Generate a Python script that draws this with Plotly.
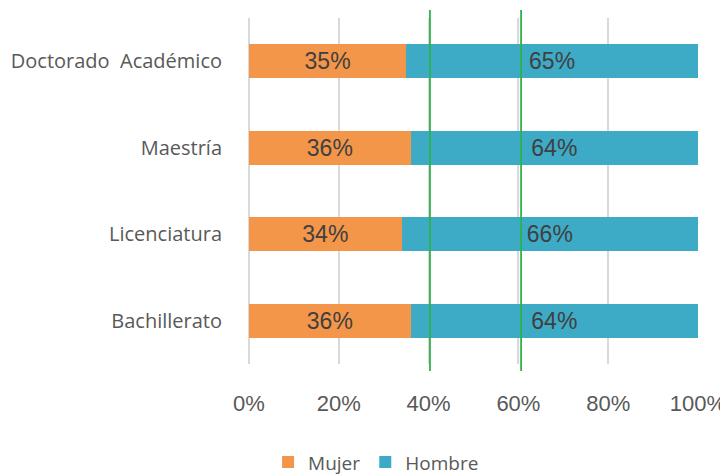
import plotly.graph_objects as go

categories = ["Doctorado  Académico", "Maestría", "Licenciatura", "Bachillerato"]
mujer = [35, 36, 34, 36]
hombre = [65, 64, 66, 64]
x_ticks = [0, 20, 40, 60, 80, 100]
x_tick_labels = ["0%", "20%", "40%", "60%", "80%", "100%"]
reference_lines = [40.3, 60.6]

fig = go.Figure()
fig.add_trace(go.Bar(
    y=categories, x=mujer, name="Mujer", orientation="h",
    marker=dict(color="#F4964A", line=dict(width=0)),
    text=[f"{v}%" for v in mujer], textposition="inside", insidetextanchor="middle",
    textfont=dict(family="Liberation Sans, Arial", size=23, color="#404040"),
))
fig.add_trace(go.Bar(
    y=categories, x=hombre, name="Hombre", orientation="h",
    marker=dict(color="#3DAAC6", line=dict(width=0)),
    text=[f"{v}%" for v in hombre], textposition="inside", insidetextanchor="middle",
    textfont=dict(family="Liberation Sans, Arial", size=23, color="#404040"),
))

for xv in reference_lines:
    fig.add_shape(type="line", xref="x", yref="paper", x0=xv, x1=xv, y0=-0.02, y1=1.023,
                  line=dict(color="#2DB34A", width=1.8), layer="above")

# page body has an 8px margin, so the figure is 8px smaller and shifted
fig.update_layout(
    width=720, height=467,
    barmode="stack", bargap=0.61,
    plot_bgcolor="white", paper_bgcolor="white",
    margin=dict(l=241, r=30, t=10, b=111, autoexpand=False),
    showlegend=True,
    legend=dict(orientation="h", x=0.283, xanchor="center", y=-0.284, yanchor="middle",
                font=dict(family="Open Sans", size=19, color="#595959"),
                itemwidth=30, traceorder="normal"),
    uniformtext=dict(mode="show", minsize=10),
)
fig.update_xaxes(range=[0, 100], tickvals=x_ticks, ticktext=x_tick_labels,
                 showgrid=True, gridcolor="#D9D9D9", gridwidth=1.5,
                 zeroline=True, zerolinecolor="#D9D9D9", zerolinewidth=1.5,
                 showline=False, ticks="", ticklabelstandoff=24, automargin=False,
                 tickfont=dict(family="Liberation Sans, Arial", size=22, color="#595959"))
fig.update_yaxes(categoryorder="array", categoryarray=categories, autorange="reversed",
                 showgrid=False, zeroline=False, showline=False, ticks="",
                 ticklabelstandoff=26, automargin=False,
                 tickfont=dict(family="Open Sans", size=20, color="#595959"))

fig.write_html("out.html")
